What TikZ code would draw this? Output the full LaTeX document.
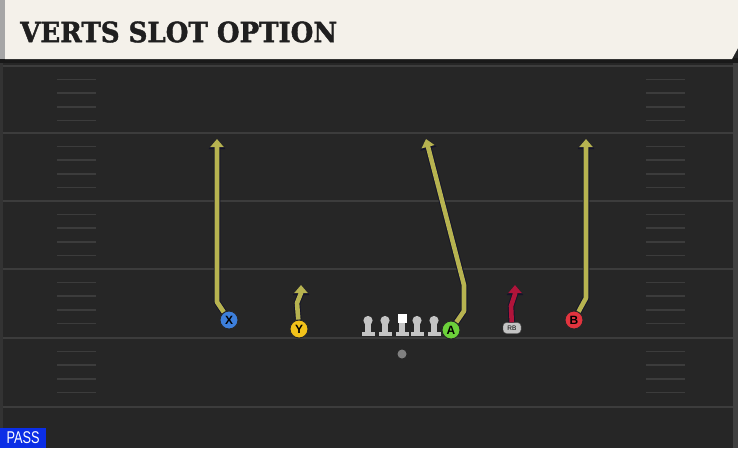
\documentclass[tikz,border=0pt]{standalone}
\usepackage{fontspec}
\usepackage{graphicx}
\usetikzlibrary{arrows.meta,positioning}
\newfontfamily\titlefont[UprightFont={* Bold}, FakeBold=1.5]{DejaVu Serif}
\newfontfamily\labelfont{Liberation Sans}
\definecolor{field}{HTML}{262626}
\definecolor{yardline}{HTML}{3C3C3C}
\definecolor{cream}{HTML}{F4F1EA}
\definecolor{routeyellow}{HTML}{B7B350}
\definecolor{routered}{HTML}{B0143A}
\definecolor{outline}{HTML}{14142A}
\definecolor{playerblue}{HTML}{3D7FDB}
\definecolor{playeryellow}{HTML}{F2C21A}
\definecolor{playergreen}{HTML}{6CD13A}
\definecolor{playerred}{HTML}{E2343E}
\definecolor{lineman}{HTML}{C4C4C4}
\definecolor{passblue}{HTML}{0B2EE6}
\tikzset{
  player/.style={circle, draw=black!85, line width=0.9pt, minimum size=18pt, inner sep=0pt,
    font=\labelfont\bfseries\fontsize{12}{12}\selectfont},
  routeback/.style={draw=outline, line width=6.5pt, line join=round, -{Triangle[width=16pt,length=10pt]}},
  route/.style={line width=4.6pt, line join=round, -{Triangle[width=13pt,length=8pt]}},
  yellowroute/.style={route, draw=routeyellow},
  redroute/.style={route, draw=routered},
  hashmark/.style={draw=yardline, line width=1.5pt}
}
\begin{document}
\begin{tikzpicture}[x=1pt,y=-1pt]
  \useasboundingbox (0,0) rectangle (738,448);
  % field
  \fill[field] (0,0) rectangle (738,448);
  \fill[black!75] (733,60) rectangle (738,448);
  \fill[black!80] (0,60) rectangle (3,448);
  % yard lines
  \foreach \y in {66,133,201,269,338,407}
    \draw[yardline, line width=2.2pt] (3,\y) -- (733,\y);
  % hash marks
  \foreach \y in {66,133,201,269,338}
    \foreach \k in {1,2,3,4} {
      \draw[hashmark] (57,\y+13.6*\k) -- (96,\y+13.6*\k);
      \draw[hashmark] (646,\y+13.6*\k) -- (685,\y+13.6*\k);
    }
  % header
  \fill[black!90] (0,58) rectangle (738,63);
  \fill[cream] (5,0) -- (738,0) -- (738,48) -- (732,59) -- (5,59) -- cycle;
  \fill[black!35] (0,0) rectangle (5,59);
  \node[anchor=west, inner sep=0pt, text=black!88] (title) at (20,32)
    {\titlefont\fontsize{28}{28}\selectfont\scalebox{0.93}[1]{VERTS SLOT OPTION}};
  % line
  \foreach \x in {368,385,417,434} {
    \fill[lineman] (\x,320.5) circle (4.6pt);
    \fill[lineman] (\x-2.8,323) rectangle (\x+2.8,332);
    \fill[lineman] (\x-6.5,331.5) rectangle (\x+6.5,336);
  }
  \fill[white] (397.5,313.5) rectangle (406.5,322.5);
  \fill[lineman] (399.2,322.5) rectangle (404.8,332);
  \fill[lineman] (395.5,331.5) rectangle (408.5,336);
  \fill[gray] (402,354) circle (4.5pt);
  % players
  \node[player, fill=playerblue] (X) at (229,320) {X};
  \node[player, fill=playeryellow] (Y) at (299,329) {Y};
  \node[player, fill=playergreen] (A) at (451,330) {A};
  \node[player, fill=playerred] (B) at (574,320) {B};
  \node[rounded corners=3.5pt, fill=lineman, draw=black!70, minimum width=18pt, minimum height=11pt,
    inner sep=0pt, font=\labelfont\fontsize{6.5}{6.5}\selectfont] (RB) at (512,328) {RB};
  % routes
  \coordinate (Xend) at (217,139);
  \coordinate (Yend) at (301,285);
  \coordinate (Aend) at (426,139);
  \coordinate (Bend) at (586,139);
  \coordinate (RBend) at (515,285);
  \foreach \c in {routeback,yellowroute} {
    \draw[\c] (X) -- (217,302) -- (Xend);
    \draw[\c] (Y) -- (297,303) -- (301,293) -- (Yend);
    \draw[\c] (A) -- (464,311) -- (464,285) -- (Aend);
    \draw[\c] (B) -- (586,298) -- (Bend);
  }
  \draw[routeback] (RB) -- (511,306) -- (515,294) -- (RBend);
  \draw[redroute] (RB) -- (511,306) -- (515,294) -- (RBend);
  % play type
  \node[anchor=south west, fill=passblue, text=white, minimum width=46pt, minimum height=20pt, inner sep=0pt,
    font=\labelfont\fontsize{17}{17}\selectfont] (pass) at (0,448) {\scalebox{0.75}[1]{PASS}};
\end{tikzpicture}
\end{document}
